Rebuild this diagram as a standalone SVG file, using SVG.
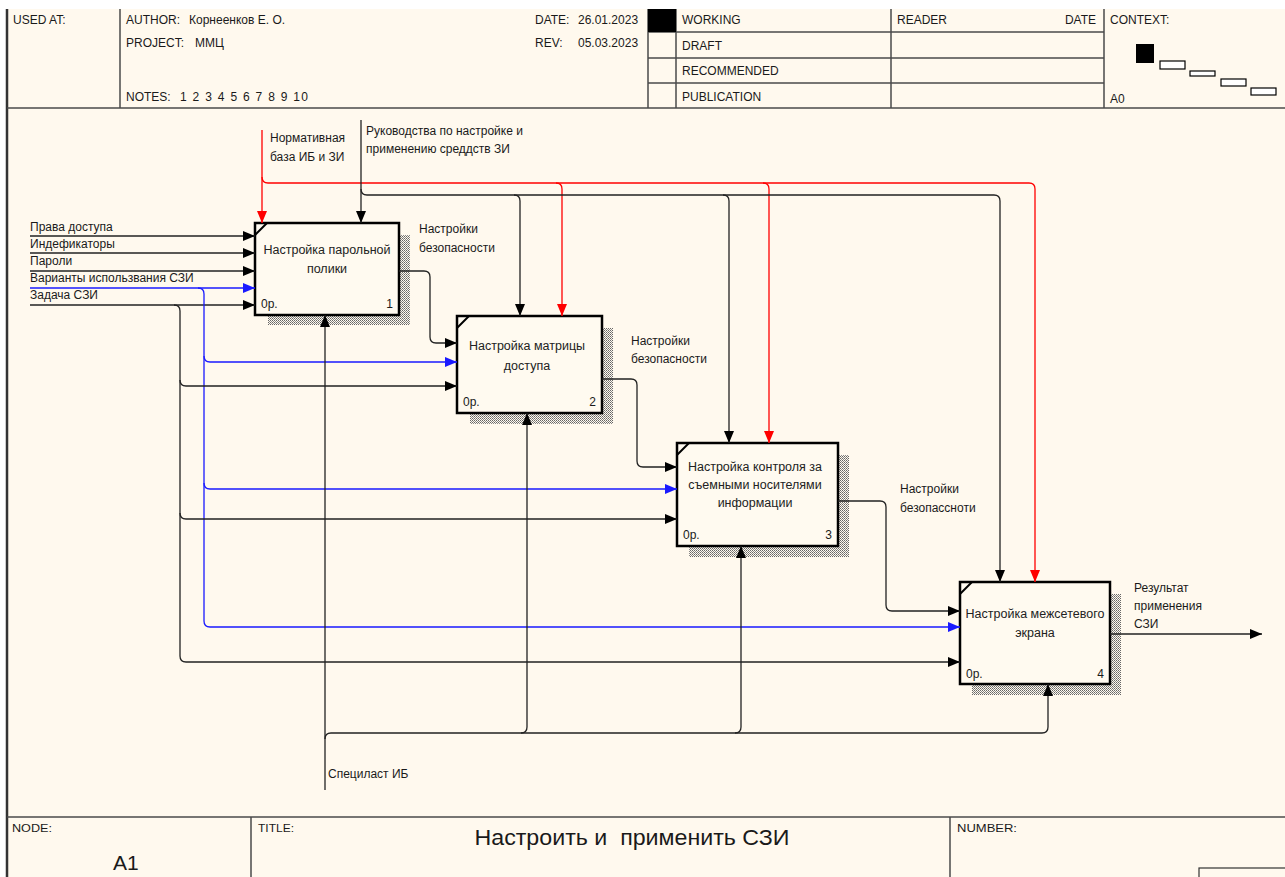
<svg xmlns="http://www.w3.org/2000/svg" width="1285" height="877" viewBox="0 0 1285 877">
<style>
text{font-family:"Liberation Sans",Arial,sans-serif;fill:#1a1a1a}
.h{font-size:12px}
.lbl{font-size:12px}
.bt{font-size:12.5px;text-anchor:middle;fill:#222}
.frame{stroke:#4a4a4a;stroke-width:1.5;fill:none}
.box{fill:#fffaf0;stroke:#000;stroke-width:2.5}
.diag{stroke:#000;stroke-width:2}
.k{fill:none;stroke:#222;stroke-width:1.3}
.r{fill:none;stroke:#ff0000;stroke-width:1.3}
.b{fill:none;stroke:#1a1aff;stroke-width:1.3}
.ak{marker-end:url(#mk)}
.ar{marker-end:url(#mr)}
.ab{marker-end:url(#mb)}
</style>
<defs>
<marker id="mk" markerUnits="userSpaceOnUse" markerWidth="12" markerHeight="10" refX="12" refY="5" orient="auto"><path d="M0,0 L12,5 L0,10 z" fill="#000"/></marker>
<marker id="mr" markerUnits="userSpaceOnUse" markerWidth="12" markerHeight="10" refX="12" refY="5" orient="auto"><path d="M0,0 L12,5 L0,10 z" fill="#ff0000"/></marker>
<marker id="mb" markerUnits="userSpaceOnUse" markerWidth="12" markerHeight="10" refX="12" refY="5" orient="auto"><path d="M0,0 L12,5 L0,10 z" fill="#1a1aff"/></marker>
<pattern id="hatch" width="2" height="2" patternUnits="userSpaceOnUse"><rect width="1" height="1" fill="#666"/><rect x="1" y="1" width="1" height="1" fill="#888"/></pattern>
</defs>
<rect x="0" y="0" width="1285" height="877" fill="#ffffff"/>
<rect x="7" y="9" width="1278" height="868" fill="#fff9ee"/>

<g id="frame">
<line x1="7" y1="9" x2="7" y2="877" stroke="#333" stroke-width="2.5"/>
<line x1="7" y1="108" x2="1285" y2="108" class="frame"/>
<line x1="120" y1="9" x2="120" y2="108" class="frame"/>
<line x1="648" y1="9" x2="648" y2="108" class="frame"/>
<line x1="676" y1="9" x2="676" y2="108" class="frame"/>
<line x1="891" y1="9" x2="891" y2="108" class="frame"/>
<line x1="1104" y1="9" x2="1104" y2="108" class="frame"/>
<line x1="648" y1="32" x2="1104" y2="32" class="frame"/>
<line x1="648" y1="58" x2="1104" y2="58" class="frame"/>
<line x1="648" y1="83" x2="1104" y2="83" class="frame"/>
<rect x="648" y="9" width="28" height="23" fill="#000"/>
<text class="h" x="13" y="24">USED AT:</text>
<text class="h" x="126" y="24">AUTHOR:</text><text class="h" x="189" y="24">Корнеенков Е. О.</text>
<text class="h" x="126" y="47">PROJECT:</text><text class="h" x="195" y="47">ММЦ</text>
<text class="h" x="126" y="101">NOTES:</text><text class="h" x="180" y="101" textLength="128" lengthAdjust="spacing">1 2 3 4 5 6 7 8 9 10</text>
<text class="h" x="535" y="24">DATE:</text><text class="h" x="578" y="24">26.01.2023</text>
<text class="h" x="535" y="47">REV:</text><text class="h" x="578" y="47">05.03.2023</text>
<text class="h" x="682" y="24">WORKING</text>
<text class="h" x="682" y="50">DRAFT</text>
<text class="h" x="682" y="75">RECOMMENDED</text>
<text class="h" x="682" y="101">PUBLICATION</text>
<text class="h" x="897" y="24">READER</text>
<text class="h" x="1096" y="24" text-anchor="end">DATE</text>
<text class="h" x="1110" y="24">CONTEXT:</text>
<rect x="1136" y="44" width="18" height="19" fill="#000"/>
<rect x="1160" y="61" width="25" height="8" fill="#fff" stroke="#000" stroke-width="1.2"/>
<rect x="1190" y="71" width="25" height="5" fill="#fff" stroke="#000" stroke-width="1.2"/>
<rect x="1221" y="79" width="25" height="7" fill="#fff" stroke="#000" stroke-width="1.2"/>
<rect x="1251" y="88" width="25" height="7" fill="#fff" stroke="#000" stroke-width="1.2"/>
<text class="h" x="1110" y="103">A0</text>
<line x1="7" y1="817" x2="1285" y2="817" class="frame" stroke-width="2"/>
<line x1="251" y1="817" x2="251" y2="877" class="frame"/>
<line x1="950" y1="817" x2="950" y2="877" class="frame"/>
<text x="12" y="832" font-size="11" textLength="40" lengthAdjust="spacingAndGlyphs">NODE:</text>
<text x="258" y="832" font-size="11" textLength="36" lengthAdjust="spacingAndGlyphs">TITLE:</text>
<text x="957" y="832" font-size="11" textLength="60" lengthAdjust="spacingAndGlyphs">NUMBER:</text>
<text x="632" y="845" font-size="22" text-anchor="middle" textLength="315" lengthAdjust="spacingAndGlyphs" xml:space="preserve">Настроить и  применить СЗИ</text>
<text x="113" y="870" font-size="21">A1</text>
<rect x="1199" y="868" width="90" height="20" fill="none" stroke="#333" stroke-width="1.2"/>
</g>

<g id="node1">
<path d="M399,235 h11 v90 h-142 v-10 h131 z" fill="url(#hatch)"/>
<rect class="box" x="255" y="223" width="144" height="92"/>
<line class="diag" x1="255" y1="235" x2="267" y2="223"/>
<text class="bt" x="327" y="254">Настройка парольной</text>
<text class="bt" x="327" y="273">полики</text>
<text class="lbl" x="261" y="308">0р.</text>
<text class="lbl" x="393" y="308" text-anchor="end">1</text>
</g>

<g id="node2">
<path d="M602,328 h11 v96 h-143 v-11 h132 z" fill="url(#hatch)"/>
<rect class="box" x="457" y="316" width="145" height="97"/>
<line class="diag" x1="457" y1="328" x2="469" y2="316"/>
<text class="bt" x="527" y="350">Настройка матрицы</text>
<text class="bt" x="527" y="370">доступа</text>
<text class="lbl" x="463" y="406">0р.</text>
<text class="lbl" x="596" y="406" text-anchor="end">2</text>
</g>

<g id="node3">
<path d="M838,455 h11 v102 h-160 v-11 h149 z" fill="url(#hatch)"/>
<rect class="box" x="677" y="443" width="161" height="103"/>
<line class="diag" x1="677" y1="455" x2="689" y2="443"/>
<text class="bt" x="755" y="471">Настройка контроля за</text>
<text class="bt" x="755" y="489">съемными носителями</text>
<text class="bt" x="755" y="507">информации</text>
<text class="lbl" x="683" y="539">0р.</text>
<text class="lbl" x="832" y="539" text-anchor="end">3</text>
</g>

<g id="node4">
<path d="M1110,594 h11 v101 h-149 v-11 h138 z" fill="url(#hatch)"/>
<rect class="box" x="960" y="582" width="150" height="102"/>
<line class="diag" x1="960" y1="594" x2="972" y2="582"/>
<text class="bt" x="1035" y="618">Настройка межсетевого</text>
<text class="bt" x="1035" y="637">экрана</text>
<text class="lbl" x="966" y="678">0р.</text>
<text class="lbl" x="1104" y="678" text-anchor="end">4</text>
</g>

<g id="connectors">
<path class="k ak" d="M30,236 H255"/>
<path class="k ak" d="M30,253 H255"/>
<path class="k ak" d="M30,271 H255"/>
<path class="b ab" d="M30,288 H255"/>
<path class="k ak" d="M30,305 H255"/>
<path class="b ab" d="M198,288 q6,0 6,6 V621 q0,6 6,6 H960"/>
<path class="b ab" d="M204,356 q0,6 6,6 H457"/>
<path class="b ab" d="M204,483 q0,6 6,6 H677"/>
<path class="k ak" d="M174,305 q6,0 6,6 V656 q0,6 6,6 H960"/>
<path class="k ak" d="M180,380 q0,6 6,6 H457"/>
<path class="k ak" d="M180,513 q0,6 6,6 H677"/>
<path class="k ak" d="M399,271 H424 q6,0 6,6 V337 q0,6 6,6 H457"/>
<path class="k ak" d="M602,379 H631 q6,0 6,6 V461 q0,6 6,6 H677"/>
<path class="k ak" d="M838,501 H880 q6,0 6,6 V605 q0,6 6,6 H960"/>
<path class="k ak" d="M1110,634 H1262"/>
<path class="r ar" d="M262,130 V223"/>
<path class="r ar" d="M262,177 q0,6 6,6 H1029 q6,0 6,6 V582"/>
<path class="r ar" d="M556,183 q6,0 6,6 V316"/>
<path class="r ar" d="M763,183 q6,0 6,6 V443"/>
<path class="k ak" d="M361,120 V223"/>
<path class="k ak" d="M361,189 q0,6 6,6 H994 q6,0 6,6 V582"/>
<path class="k ak" d="M514,195 q6,0 6,6 V316"/>
<path class="k ak" d="M723,195 q6,0 6,6 V443"/>
<path class="k ak" d="M325,790 V315"/>
<path class="k ak" d="M325,739 q0,-6 6,-6 H1042 q6,0 6,-6 V684"/>
<path class="k ak" d="M521,733 q6,0 6,-6 V413"/>
<path class="k ak" d="M735,733 q6,0 6,-6 V546"/>
<text class="lbl" x="30" y="231">Права доступа</text>
<text class="lbl" x="30" y="248">Индефикаторы</text>
<text class="lbl" x="30" y="265">Пароли</text>
<text class="lbl" x="30" y="282">Варианты использвания СЗИ</text>
<text class="lbl" x="30" y="299">Задача СЗИ</text>
<text class="lbl" x="270" y="142">Нормативная</text>
<text class="lbl" x="270" y="161">база ИБ и ЗИ</text>
<text class="lbl" x="366" y="135">Руководства по настройке и</text>
<text class="lbl" x="366" y="153">применению среддств ЗИ</text>
<text class="lbl" x="419" y="233">Настройки</text>
<text class="lbl" x="419" y="252">безопасности</text>
<text class="lbl" x="631" y="345">Настройки</text>
<text class="lbl" x="631" y="363">безопасности</text>
<text class="lbl" x="900" y="493">Настройки</text>
<text class="lbl" x="900" y="512">безопассноти</text>
<text class="lbl" x="1134" y="592">Результат</text>
<text class="lbl" x="1134" y="610">применения</text>
<text class="lbl" x="1134" y="628">СЗИ</text>
<text class="lbl" x="328" y="778">Специласт ИБ</text>
</g>
</svg>
